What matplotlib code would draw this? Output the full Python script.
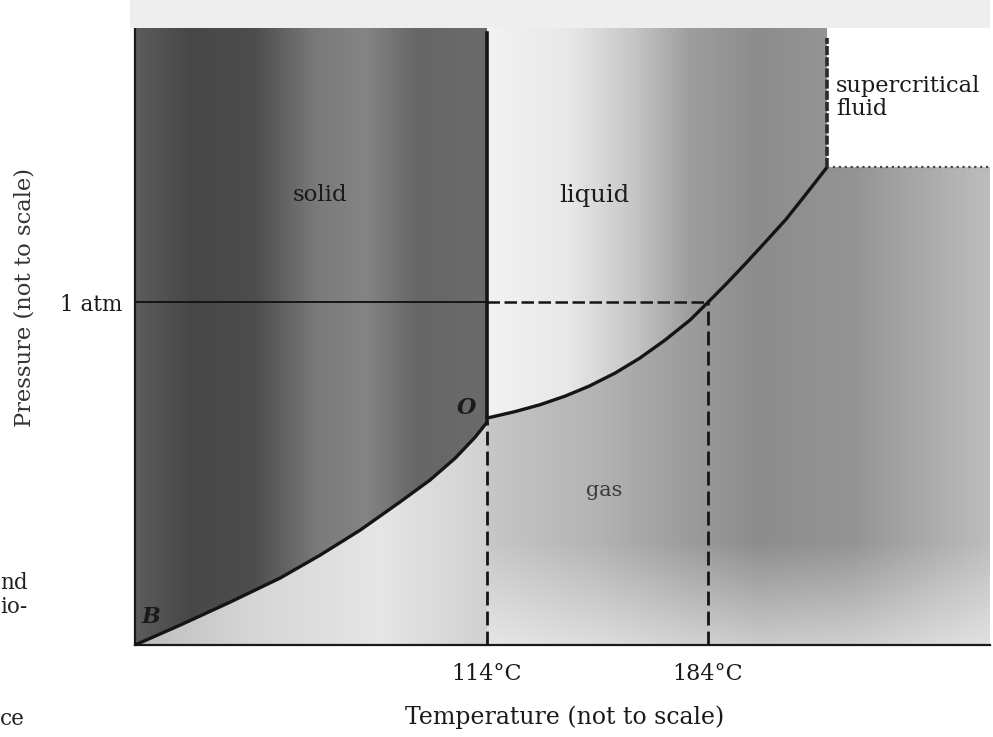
import numpy as np
import matplotlib
matplotlib.use("Agg")
import matplotlib.pyplot as plt
from matplotlib.patches import Polygon, Rectangle

plt.rcParams['font.family'] = ['DejaVu Serif', 'Liberation Serif']

# ---------------- data (arbitrary, "not to scale") ----------------
sub_T = [2.5, 16.8, 32.6, 48.4, 61.1, 73.8, 86.4, 95.9, 103.9, 110.2, 114.0]
sub_P = [0.0, 0.058, 0.125, 0.195, 0.262, 0.335, 0.417, 0.481, 0.545, 0.606, 0.650]
vap_T = [114.0, 122.9, 130.8, 138.7, 146.3, 154.5, 162.4, 170.3, 178.3, 184.0,
         189.4, 195.7, 202.1, 208.7, 215.0, 221.7]
vap_P = [0.662, 0.681, 0.701, 0.726, 0.755, 0.793, 0.837, 0.889, 0.948, 1.0,
         1.050, 1.111, 1.175, 1.242, 1.315, 1.394]
T_triple = 114.0
P_triple = 0.650
T_boil = 184.0
P_atm = 1.0
T_crit = 221.7
P_crit = 1.394
melt_top = 1.784
crit_top = 1.77
x_ticks = [114, 184]
x_tick_labels = ["114°C", "184°C"]
y_ticks = [1.0]
y_tick_labels = ["1 atm"]
T_min, T_max = 2.5, 273.3
P_min, P_max = 0.0, 1.80

# ---------------- figure ----------------
W, H = 993, 737
fig = plt.figure(figsize=(W / 100, H / 100), dpi=100)
ax = fig.add_axes([135 / W, (H - 645) / H, 855 / W, (645 - 28) / H])
ax.set_xlim(T_min, T_max)
ax.set_ylim(P_min, P_max)

# faint grey band of the scan above the plot
fig.patches.append(Rectangle((130 / W, 1 - 28 / H), (990 - 130) / W, 28 / H,
                             transform=fig.transFigure, facecolor='#eeeeee',
                             edgecolor='none', zorder=0))

nx, ny = 600, 400
gx = np.linspace(T_min, T_max, nx)
gy = np.linspace(P_min, P_max, ny)


def shade(poly, hstops, fade=None):
    ts, gs = zip(*hstops)
    g = np.interp(gx, ts, gs)[None, :].repeat(ny, axis=0)
    if fade is not None:
        p0, p1, amt = fade
        f = np.clip((p1 - gy) / (p1 - p0), 0, 1) * amt
        g = g + (1 - g) * f[:, None]
    rgb = np.dstack([g, g, g])
    im = ax.imshow(rgb, extent=(T_min, T_max, P_min, P_max), origin='lower',
                   aspect='auto', interpolation='bilinear', zorder=0)
    patch = Polygon(poly, closed=True, transform=ax.transData,
                    facecolor='none', edgecolor='none')
    ax.add_patch(patch)
    im.set_clip_path(patch)


# solid region
solid_poly = list(zip(sub_T, sub_P)) + [(T_triple, P_max), (T_min, P_max)]
shade(solid_poly, [(2.5, 0.36), (20, 0.28), (40, 0.30), (60, 0.48), (75, 0.52),
                   (92, 0.40), (114, 0.42)])
# gas region under the sublimation curve
gas_left = [(T_min, 0), (T_triple, 0), (T_triple, P_triple)] + \
    list(zip(sub_T[::-1], sub_P[::-1]))
shade(gas_left, [(2.5, 0.74), (40, 0.84), (80, 0.90), (114, 0.82)])
# liquid region
liq_poly = list(zip(vap_T, vap_P)) + [(T_crit, P_max), (T_triple, P_max)]
shade(liq_poly, [(114, 0.95), (140, 0.91), (160, 0.78), (178, 0.62),
                 (200, 0.55), (222, 0.58)])
# gas region right
gas_right = [(T_triple, 0), (T_max, 0), (T_max, P_crit)] + \
    list(zip(vap_T[::-1], vap_P[::-1]))
shade(gas_right, [(114, 0.78), (150, 0.70), (175, 0.62), (200, 0.55),
                  (230, 0.58), (273, 0.74)], fade=(0.0, 0.3, 0.55))

# ---------------- lines ----------------
lc = '#151515'
ax.plot(sub_T, sub_P, color=lc, lw=2.4, solid_joinstyle='round',
        solid_capstyle='butt', zorder=5)
ax.plot(vap_T, vap_P, color=lc, lw=2.4, solid_joinstyle='round',
        solid_capstyle='butt', zorder=5)
ax.plot([T_triple, T_triple], [P_triple, melt_top], color=lc, lw=2.6, zorder=5,
        clip_on=False)
ax.plot([T_min, T_triple], [P_atm, P_atm], color=lc, lw=1.4, zorder=4)
ax.plot([T_triple, T_boil], [P_atm, P_atm], color=lc, lw=1.8, dashes=(5, 1.8),
        zorder=4)
ax.plot([T_triple, T_triple], [0, P_triple], color=lc, lw=2.0, dashes=(5, 2.2),
        zorder=4)
ax.plot([T_boil, T_boil], [0, P_atm], color=lc, lw=2.0, dashes=(5, 2.2), zorder=4)
ax.plot([T_crit, T_crit], [P_crit, crit_top], color='#2a2a2a', lw=2.6,
        dashes=(2.5, 0.6), zorder=4)
ax.plot([T_crit, T_max], [P_crit, P_crit], color='#444444', lw=1.6,
        linestyle=':', zorder=4)

# ---------------- axes styling ----------------
for s in ['top', 'right']:
    ax.spines[s].set_visible(False)
for s in ['left', 'bottom']:
    ax.spines[s].set_linewidth(1.6)
    ax.spines[s].set_color('#1a1a1a')
ax.set_xticks(x_ticks)
ax.set_xticklabels(x_tick_labels, fontsize=16)
ax.set_yticks(y_ticks)
ax.set_yticklabels(y_tick_labels, fontsize=15.5)
ax.tick_params(axis='x', length=0, pad=13, colors='#1a1a1a')
ax.tick_params(axis='y', length=0, pad=9, colors='#1a1a1a')
ax.set_xlabel("Temperature (not to scale)", fontsize=17, color='#1a1a1a')
ax.xaxis.set_label_coords((565 - 135) / 855, -(705 - 645) / 617)
fig.text(25 / W, 1 - 298 / H, "Pressure (not to scale)", rotation=90,
         ha='center', va='center', fontsize=16.3, color='#333333')

# ---------------- region labels ----------------
tk = dict(ha='center', va='center', zorder=6)
ax.text(61, 1.312, "solid", fontsize=16.5, color='#1a1a1a', **tk)
ax.text(148, 1.312, "liquid", fontsize=17.5, color='#1a1a1a', **tk)
ax.text(151, 0.452, "gas", fontsize=15, color='#3a3a3a', **tk)
ax.text(224.5, 1.598, "supercritical\nfluid", fontsize=16.2, color='#1a1a1a',
        ha='left', va='center', linespacing=1.05, zorder=6)
ax.text(115.5, 1.845, "D", fontsize=14, style='italic', color='#333333',
        ha='center', va='center', clip_on=False)
ax.text(107.5, 0.692, "O", fontsize=16, style='italic', weight='bold',
        color='#1a1a1a', **tk)
ax.text(7.5, 0.082, "B", fontsize=16, style='italic', weight='bold',
        color='#1a1a1a', **tk)

# fragments of the scanned page at the left edge
for txt, yy in [("nd", 583), ("io-", 607), ("ce", 719)]:
    fig.text(0 / W, 1 - yy / H, txt, ha='left', va='center', fontsize=15.5,
             color='#222222')

fig.savefig("out.png", dpi=100, facecolor='white')
